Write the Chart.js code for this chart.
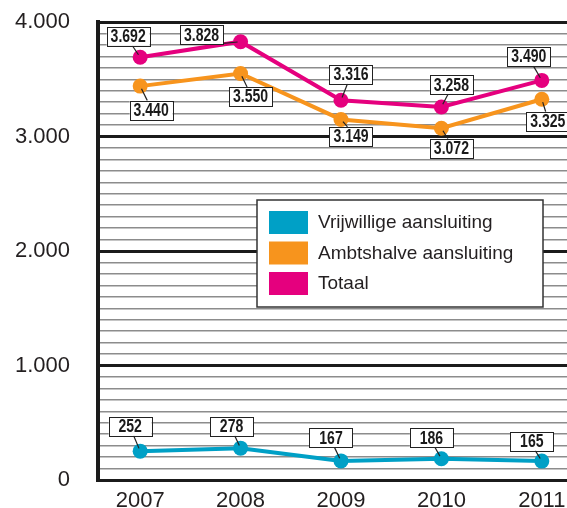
<!DOCTYPE html>
<html>
<head>
<meta charset="utf-8">
<script src="https://cdn.jsdelivr.net/npm/chart.js@4"></script>
<style>
  html, body { margin: 0; padding: 0; background: #fff; overflow: hidden; }
  #wrap { width: 600px; height: 508px; position: relative; }
</style>
</head>
<body>
<div id="wrap"><canvas id="grafiek"></canvas></div>
<script>
/* gegevens van de grafiek */
var jaren = [2007, 2008, 2009, 2010, 2011];
var vrijwillig = [252, 278, 167, 186, 165];
var ambtshalve = [3440, 3550, 3149, 3072, 3325];
var totaal = [3692, 3828, 3316, 3258, 3490];
var namen = ['Vrijwillige aansluiting', 'Ambtshalve aansluiting', 'Totaal'];
var yLabels = [0, 1000, 2000, 3000, 4000];

var kleuren = ['#00a0c6', '#f7941d', '#e5007e'];

// getal met punt als duizendtal-scheiding
function fmt(v) {
  return String(v).replace(/\B(?=(\d{3})+(?!\d))/g, '.');
}

function punten(waarden) {
  return jaren.map(function (j, k) { return { x: j, y: waarden[k] }; });
}

// waar de labels ten opzichte van het punt staan (dx, dy)
var offsetsVrij = [[-10, -25], [-9, -22], [-10, -23], [-10, -21], [-10, -20]];
var offsetsAmbt = [[11, 24], [10, 23], [10, 17], [10, 20], [6, 22]];
var offsetsTot = [[-12, -21], [-39, -7], [10, -26], [10, -22], [-13, -24]];

/* labels met kader en aanwijslijntje */
var labelPlugin = {
  id: 'waardeLabels',
  afterDatasetsDraw: function (chart) {
    var ctx = chart.ctx;
    ctx.save();
    ctx.font = 'bold 18px "Liberation Sans", Arial, sans-serif';
    chart.data.datasets.forEach(function (ds, i) {
      var meta = chart.getDatasetMeta(i);
      meta.data.forEach(function (pt, j) {
        var off = ds.labelOffsets[j];
        var txt = fmt(ds.data[j].y);
        var w = 43;
        var h = 19;
        var bx = pt.x + off[0], by = pt.y + off[1];
        // lijntje
        var sy = off[1] < 0 ? by + h / 2 : by - h / 2;
        var sx = bx + (pt.x - bx) * 0.35;
        var dx = pt.x - sx, dy = pt.y - sy;
        var len = Math.sqrt(dx * dx + dy * dy);
        var ex = pt.x - dx / len * 3, ey = pt.y - dy / len * 3;
        ctx.strokeStyle = '#222';
        ctx.lineWidth = 1.2;
        ctx.beginPath();
        ctx.moveTo(sx, sy);
        ctx.lineTo(ex, ey);
        ctx.stroke();
        // kader
        ctx.fillStyle = '#fff';
        ctx.fillRect(bx - w / 2, by - h / 2, w, h);
        ctx.lineWidth = 1;
        ctx.strokeRect(Math.round(bx - w / 2) + 0.5, Math.round(by - h / 2) + 0.5, w, h);
        // smalle letters: horizontaal samendrukken
        ctx.save();
        ctx.translate(bx, by + 1);
        ctx.scale(0.78, 1);
        ctx.fillStyle = '#1a1a1a';
        ctx.textAlign = 'center';
        ctx.textBaseline = 'middle';
        ctx.fillText(txt, 0, 0);
        ctx.restore();
      });
    });
    ctx.restore();
  }
};

/* legenda in het grafiekvlak */
var legendaPlugin = {
  id: 'legendaBinnen',
  afterDraw: function (chart) {
    var ctx = chart.ctx;
    var lx = 257, ly = 200, lw = 286, lh = 107;
    ctx.save();
    ctx.fillStyle = '#fff';
    ctx.fillRect(lx, ly, lw, lh);
    ctx.strokeStyle = '#333';
    ctx.lineWidth = 1.5;
    ctx.strokeRect(lx, ly, lw, lh);
    ctx.font = '19px "Liberation Sans", Arial, sans-serif';
    ctx.textBaseline = 'middle';
    ctx.textAlign = 'left';
    chart.data.datasets.forEach(function (ds, i) {
      var cy = 222 + i * 30.5;
      ctx.fillStyle = ds.borderColor;
      ctx.fillRect(269, cy - 11, 39, 23);
      ctx.fillStyle = '#231f20';
      ctx.fillText(ds.label, 318, cy + 1);
    });
    ctx.restore();
  }
};

function maakSerie(i, waarden, offsets) {
  return {
    label: namen[i],
    data: punten(waarden),
    borderColor: kleuren[i],
    backgroundColor: kleuren[i],
    borderWidth: 4,
    pointRadius: 7.5,
    pointHoverRadius: 7.5,
    pointBorderWidth: 0,
    tension: 0,
    labelOffsets: offsets
  };
}

var ctx = document.getElementById('grafiek').getContext('2d');
var grafiek = new Chart(ctx, {
  type: 'line',
  data: {
    datasets: [
      maakSerie(0, vrijwillig, offsetsVrij),
      maakSerie(1, ambtshalve, offsetsAmbt),
      maakSerie(2, totaal, offsetsTot)
    ]
  },
  options: {
    responsive: true,
    maintainAspectRatio: false,
    animation: false,
    devicePixelRatio: 1,
    layout: { padding: { top: 22, right: 10, left: 0, bottom: 0 } },
    plugins: {
      legend: { display: false },
      tooltip: { enabled: false }
    },
    scales: {
      x: {
        type: 'linear',
        min: 2006.58,
        max: 2011.48,
        afterBuildTicks: function (scale) {
          scale.ticks = jaren.map(function (j) { return { value: j }; });
        },
        afterFit: function (scale) {
          scale.height = 28;
          scale.paddingLeft = 0;
          scale.paddingRight = 0;
        },
        grid: { display: false, drawTicks: false },
        border: { display: true, color: '#1b1b1b', width: 3 },
        ticks: {
          padding: 8,
          maxRotation: 0,
          color: '#231f20',
          font: { family: '"Liberation Sans", Arial, sans-serif', size: 22 },
          callback: function (v) { return String(v); }
        }
      },
      y: {
        min: 0,
        max: 4000,
        afterFit: function (scale) {
          scale.width = 98;
          scale.paddingTop = 10;
          scale.paddingBottom = 10;
        },
        afterBuildTicks: function (scale) {
          var t = [];
          for (var v = 0; v <= 4000; v += 100) t.push({ value: v });
          scale.ticks = t;
        },
        grid: {
          drawTicks: false,
          color: function (c) {
            return c.tick && c.tick.value % 1000 === 0 ? '#1b1b1b' : '#8c8c8c';
          },
          lineWidth: function (c) {
            return c.tick && c.tick.value % 1000 === 0 ? 3 : 1.5;
          }
        },
        border: { display: true, color: '#1b1b1b', width: 4 },
        ticks: {
          autoSkip: false,
          padding: 28,
          color: '#231f20',
          font: { family: '"Liberation Sans", Arial, sans-serif', size: 22 },
          callback: function (v) {
            return yLabels.indexOf(v) >= 0 ? fmt(v) : '';
          }
        }
      }
    }
  },
  plugins: [labelPlugin, legendaPlugin]
});
</script>
</body>
</html>
